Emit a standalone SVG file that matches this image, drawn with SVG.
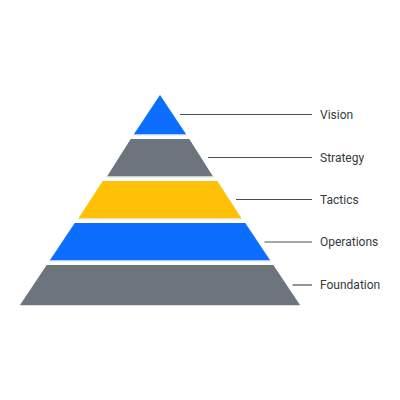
<svg xmlns="http://www.w3.org/2000/svg" width="400" height="400" viewBox="0 0 400 400">
<style>
.blue{fill:#0d6efd}
.gray{fill:#6c757d}
.yellow{fill:#ffc107}
.edge{stroke:#dee2e6;stroke-width:1;fill:none}
.lead{stroke:#495057;stroke-width:1.2;fill:none}
.lbl{font-family:Roboto,"Liberation Sans",sans-serif;font-size:12px;fill:#343a40}
</style>
<rect width="400" height="400" fill="#ffffff"/>
<g id="vision">
<polygon class="blue" points="160,95 186.3,134.5 133.7,134.5"/>
<line class="edge" x1="133.4" y1="135" x2="186.6" y2="135"/>
</g>
<g id="strategy">
<polygon class="gray" points="189.3,139 213,176.5 107,176.5 130.7,139"/>
<line class="edge" x1="106.7" y1="177" x2="213.3" y2="177"/>
</g>
<g id="tactics">
<polygon class="yellow" points="217.3,181 241.7,218.5 78.3,218.5 102.7,181"/>
<line class="edge" x1="78" y1="219" x2="242" y2="219"/>
</g>
<g id="operations">
<polygon class="blue" points="245.3,223 270.3,260.5 49.7,260.5 74.7,223"/>
<line class="edge" x1="49.4" y1="261" x2="270.6" y2="261"/>
</g>
<g id="foundation">
<polygon class="gray" points="273.3,265 300,305 20,305 46.7,265"/>
<line class="edge" x1="19.7" y1="305.5" x2="300.3" y2="305.5"/>
</g>
<g id="connectors">
<line class="lead" x1="180" y1="114.5" x2="312" y2="114.5"/>
<line class="lead" x1="208" y1="157.5" x2="312" y2="157.5"/>
<line class="lead" x1="236" y1="199.5" x2="312" y2="199.5"/>
<line class="lead" x1="264.5" y1="242" x2="312" y2="242"/>
<line class="lead" x1="292.5" y1="285" x2="312" y2="285"/>
</g>
<g id="labels">
<text class="lbl" x="320" y="118.8">Vision</text>
<text class="lbl" x="320" y="162">Strategy</text>
<text class="lbl" x="320" y="204">Tactics</text>
<text class="lbl" x="320" y="246.3">Operations</text>
<text class="lbl" x="320" y="289.3">Foundation</text>
</g>
</svg>
